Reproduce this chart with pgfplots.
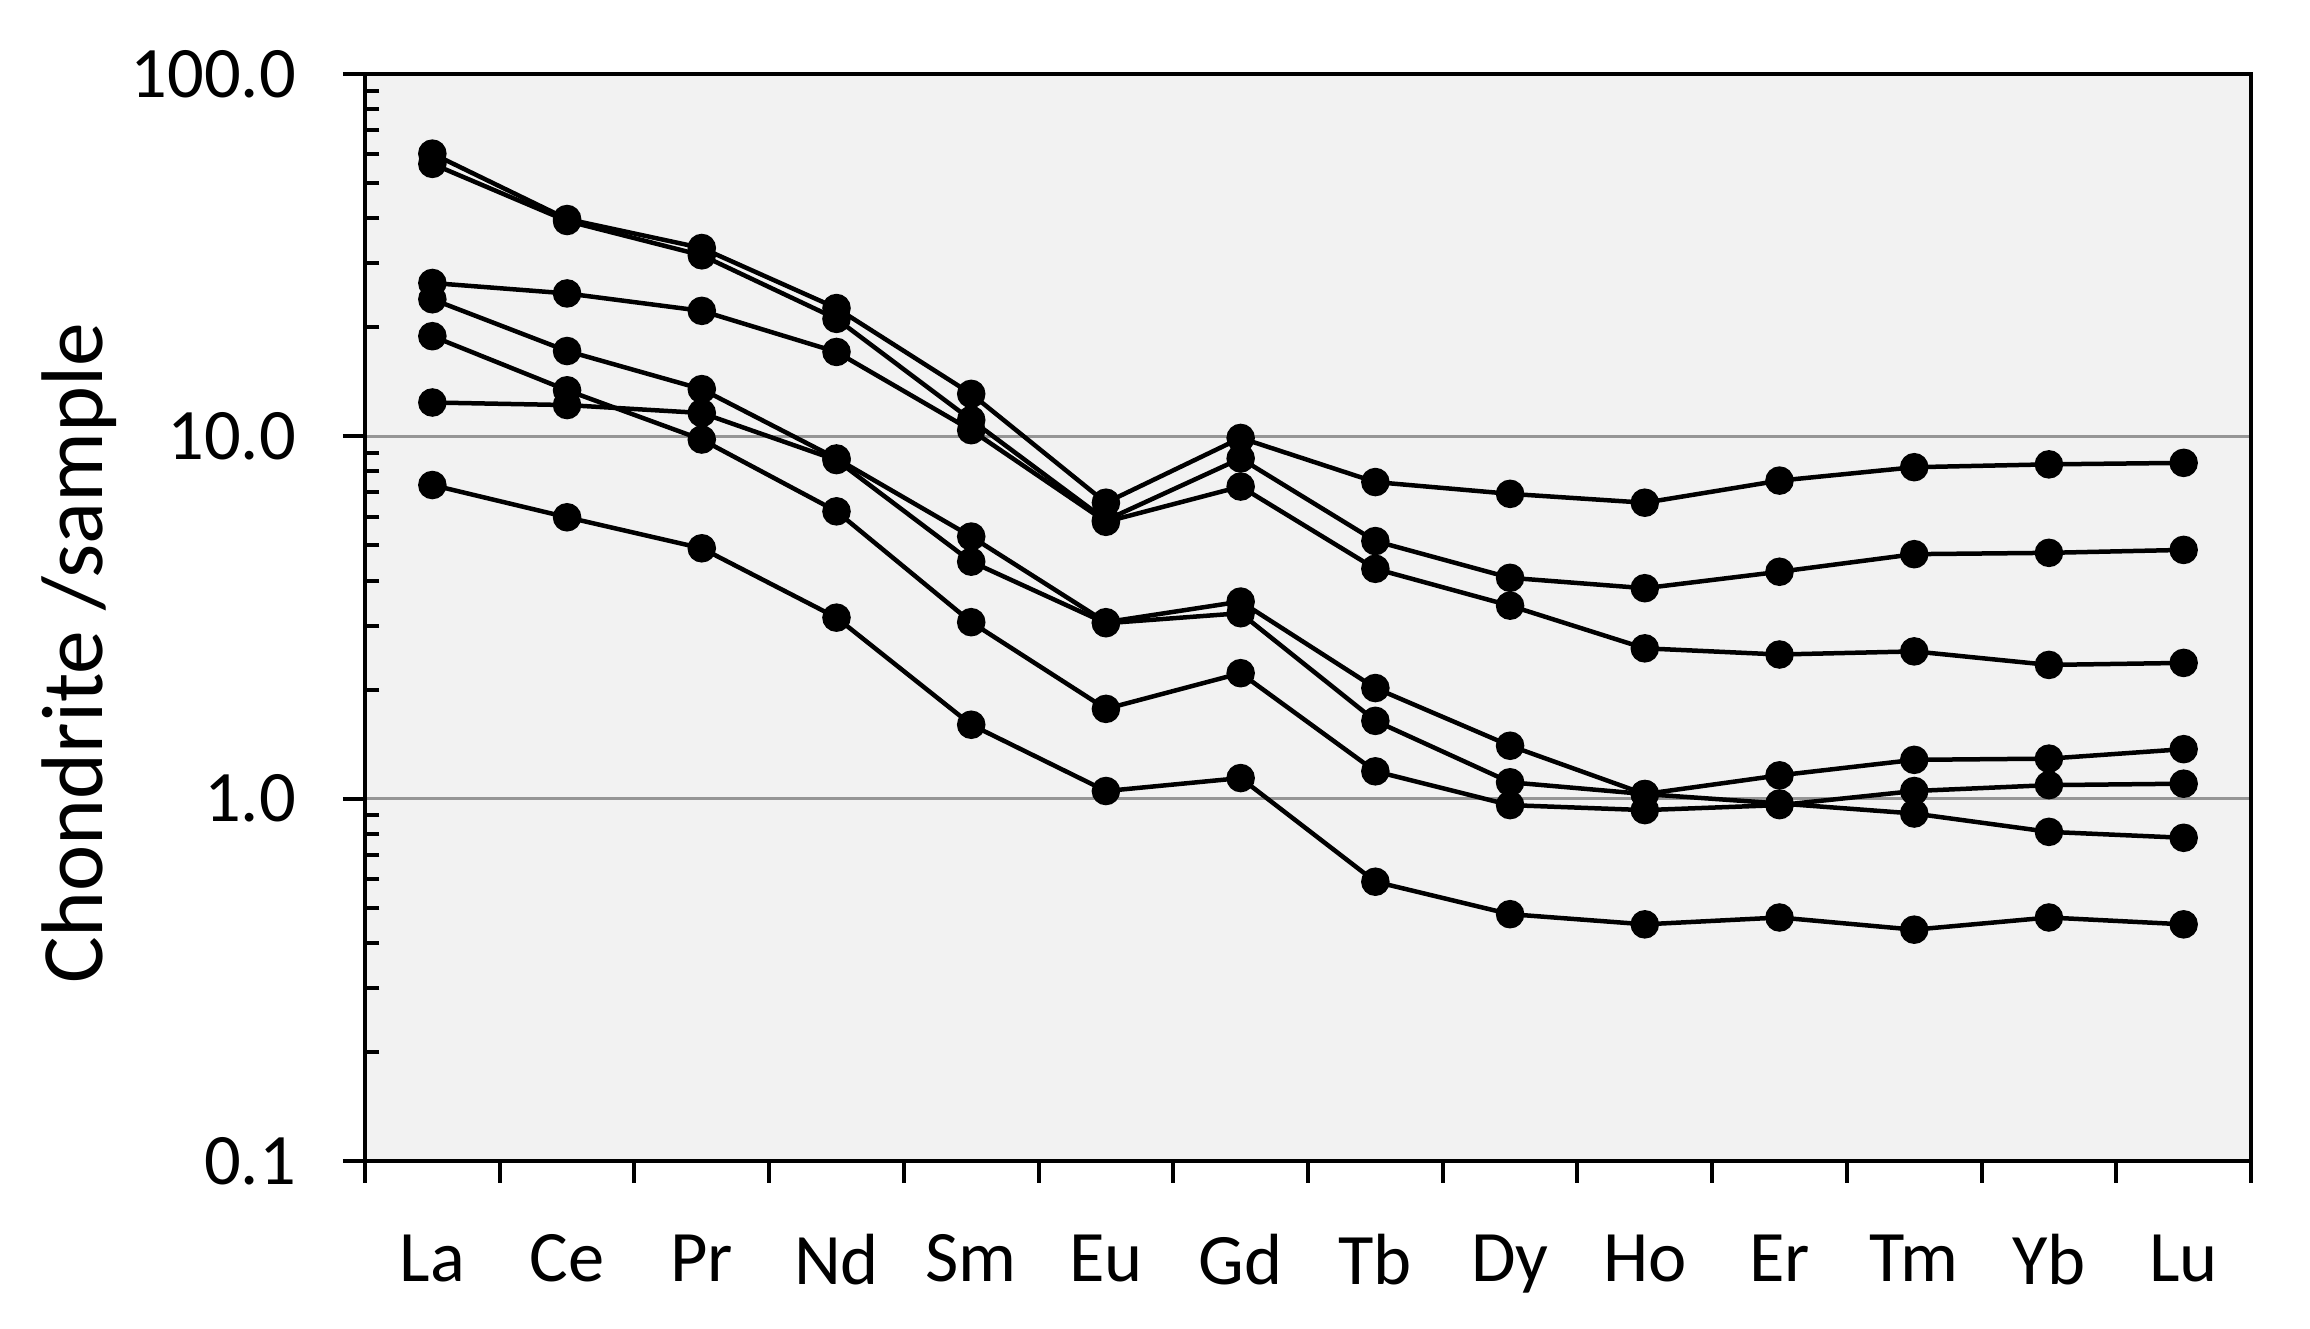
\documentclass[border=0pt]{standalone}
\usepackage{fontspec}
\setmainfont{Carlito}
\usepackage{pgfplots}
\usepackage{pgfplotstable}
\pgfplotsset{compat=1.18}
\usetikzlibrary{calc}
\definecolor{plotbg}{RGB}{242,242,242}
\definecolor{gridgray}{RGB}{150,150,150}
\pgfplotsset{ree/.style={black, solid, line width=0.9pt, mark=*, mark size=2.4pt, mark options={solid, fill=black, draw=black}}}

% columns: x, A..G = seven samples
\pgfplotstableread{
x  A     B     C     D     E     F     G
0  60.3  56.5  26.5  23.9  12.4  18.9  7.34
1  39.8  39.3  24.8  17.2  12.2  13.4  5.98
2  33.1  31.6  22.2  13.5  11.6  9.8   4.91
3  22.6  21.1  17.1  8.69  8.6   6.21  3.16
4  13.1  11.1  10.4  5.29  4.51  3.07  1.60
5  6.56  5.87  5.81  3.07  3.05  1.77  1.05
6  9.9   8.69  7.27  3.50  3.25  2.22  1.14
7  7.48  5.14  4.31  2.02  1.64  1.19  0.59
8  6.94  4.07  3.41  1.40  1.11  0.96  0.48
9  6.56  3.81  2.60  1.03  1.03  0.93  0.45
10 7.55  4.23  2.50  0.97  1.16  0.96  0.47
11 8.22  4.73  2.55  0.91  1.28  1.05  0.435
12 8.37  4.77  2.34  0.81  1.29  1.09  0.47
13 8.45  4.86  2.37  0.78  1.37  1.10  0.45
}\ree

\begin{document}
\begin{tikzpicture}
\begin{axis}[
  scale only axis,
  width=377.2pt, height=217.4pt,
  xmin=-0.5, xmax=13.5,
  ymode=log, ymin=0.1, ymax=100,
  log basis y=10,
  xtick={-0.5,0.5,...,13.5},
  xticklabels={La,Ce,Pr,Nd,Sm,Eu,Gd,Tb,Dy,Ho,Er,Tm,Yb,Lu},
  x tick label as interval,
  ytick={0.1,1,10,100},
  yticklabels={0.1,1.0,10.0,100.0},
  minor ytick={0.2,0.3,0.4,0.5,0.6,0.7,0.8,0.9,2,3,4,5,6,7,8,9,20,30,40,50,60,70,80,90},
  xtick pos=bottom, ytick pos=left,
  tick align=outside,
  major tick length=4.4pt,
  minor tick length=-2.9pt,
  tick style={black, line width=0.8pt},
  axis line style={black, line width=0.9pt},
  axis background/.style={fill=plotbg},
  ymajorgrids,
  major grid style={gridgray, line width=0.6pt},
  ticklabel style={font=\fontsize{14.5}{17}\selectfont},
  yticklabel style={xshift=-5.9pt},
  xticklabel style={yshift=-6.8pt},
  /pgf/number format/assume math mode=true,
  ylabel={Chondrite /sample},
  every axis y label/.style={at={(axis description cs:-0.1517,0.467)}, rotate=90, anchor=center, font=\fontsize{17.5}{21}\selectfont},
  clip=false,
]
\addplot[ree] table[x=x, y=A] {\ree};
\addplot[ree] table[x=x, y=B] {\ree};
\addplot[ree] table[x=x, y=C] {\ree};
\addplot[ree] table[x=x, y=D] {\ree};
\addplot[ree] table[x=x, y=E] {\ree};
\addplot[ree] table[x=x, y=F] {\ree};
\addplot[ree] table[x=x, y=G] {\ree};
\end{axis}
\path ($(current axis.south west)+(-73pt,-33.4pt)$) rectangle ($(current axis.north east)+(11.8pt,14.8pt)$);
\end{tikzpicture}
\end{document}
